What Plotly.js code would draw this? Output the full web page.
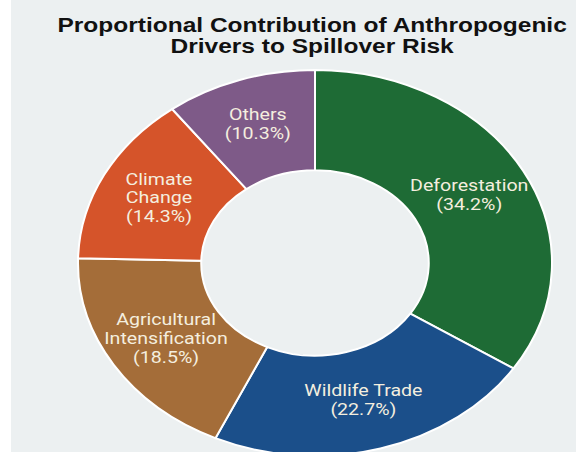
<!DOCTYPE html>
<html>
<head>
<meta charset="utf-8">
<script src="https://cdn.plot.ly/plotly-3.0.1.min.js"></script>
<style>
html,body{margin:0;padding:0;background:#ffffff;overflow:hidden;width:576px;height:452px;}
#chart{position:absolute;left:11px;top:0;width:565px;height:560px;}
</style>
</head>
<body>
<div id="chart"></div>
<script>
// Data
const categories = ["Deforestation", "Wildlife Trade", "Agricultural Intensification", "Climate Change", "Others"];
const displayLabels = ["Deforestation", "Wildlife Trade", "Agricultural<br>Intensification", "Climate<br>Change", "Others"];
const shares = [34.2, 22.7, 18.5, 14.3, 10.3];
const sliceColors = ["#1e6b35", "#1b4f8a", "#a46d39", "#d5542a", "#7e5a88"];

const ySquash = 193 / 237;   // the reference donut is an ellipse
const textStretch = 1.225;   // and its texts are drawn wide

const trace = {
  type: "pie",
  labels: categories,
  values: shares,
  text: displayLabels,
  sort: false,
  direction: "clockwise",
  rotation: 0,
  hole: 0.48,
  texttemplate: "%{text}<br>(%{value:.1f}%)",
  textposition: "inside",
  insidetextorientation: "horizontal",
  textfont: {family: "Roboto, sans-serif", size: 16, color: "#f4eedf"},
  marker: {colors: sliceColors, line: {color: "#ffffff", width: 2}},
  showlegend: false,
  hoverinfo: "label+percent"
};

const layout = {
  width: 565,
  height: 560,
  paper_bgcolor: "#ecf0f1",
  plot_bgcolor: "#ecf0f1",
  margin: {l: 67, r: 24, t: 26, b: 60},
  showlegend: false,
  title: {
    text: "Proportional Contribution of Anthropogenic<br>Drivers to Spillover Risk",
    font: {family: "Liberation Sans, Arial, sans-serif", size: 20, color: "#111111", weight: "bold"},
    x: 0.533,
    xanchor: "center",
    xref: "container",
    yref: "container",
    y: 0.98,
    yanchor: "top",
    automargin: false
  }
};

function tightenLines(textEl, factor) {
  textEl.querySelectorAll("tspan.line").forEach(function(t) {
    const dy = t.getAttribute("dy");
    if (dy && dy.indexOf("em") > 0) {
      const v = parseFloat(dy);
      if (v !== 0) t.setAttribute("dy", (v / 1.3 * factor) + "em");
    }
  });
}

function prepend(el, tr) {
  el.setAttribute("transform", tr + " " + (el.getAttribute("transform") || ""));
}

Plotly.newPlot("chart", [trace], layout, {displayModeBar: false, staticPlot: true}).then(function(gd) {
  const svg = gd.querySelector(".main-svg");
  const sr = svg.getBoundingClientRect();
  function centre(el) {
    const r = el.getBoundingClientRect();
    return {x: r.left - sr.left + r.width / 2, y: r.top - sr.top + r.height / 2, top: r.top - sr.top};
  }
  const traceG = gd.querySelector(".pielayer .trace");
  if (!traceG) return;
  const bb = traceG.getBBox();
  const cy = bb.y + bb.height / 2;

  gd.querySelectorAll(".pielayer path.surface").forEach(function(p) {
    p.setAttribute("transform", "matrix(1 0 0 " + ySquash + " 0 " + (cy * (1 - ySquash)) + ")");
    p.style.vectorEffect = "non-scaling-stroke";
  });

  gd.querySelectorAll(".pielayer text.slicetext").forEach(function(t) {
    const c0 = centre(t);
    tightenLines(t, 1.17);
    const c1 = centre(t);
    const dFix = c0.y - c1.y;
    const cx = c0.x, ty = c0.y;
    const dy = (ty - cy) * (ySquash - 1);
    prepend(t, "translate(0," + (dy + dFix) + ") translate(" + cx + "," + ty + ") scale(" + textStretch + ",1) translate(" + (-cx) + "," + (-ty) + ")");
  });

  const title = gd.querySelector("text.gtitle");
  if (title) {
    tightenLines(title, 1.05);
    const c = centre(title);
    const d = 13.6 - c.top;
    prepend(title, "translate(0," + d + ") translate(" + c.x + ",0) scale(" + textStretch + ",1) translate(" + (-c.x) + ",0)");
  }
});
</script>
</body>
</html>
